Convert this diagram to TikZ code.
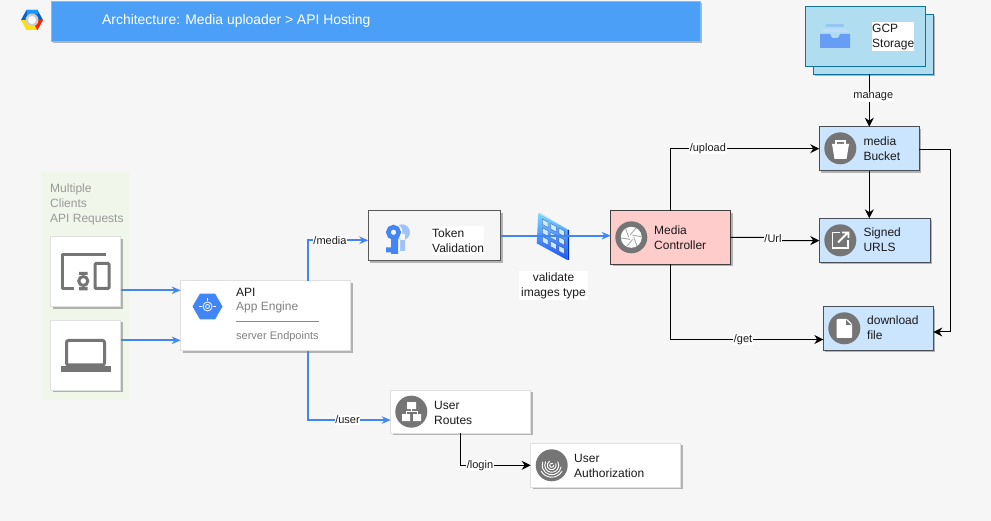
\documentclass[tikz,border=0pt]{standalone}
\usepackage{fontspec}
\setmainfont{Liberation Sans}
\usetikzlibrary{positioning,arrows.meta,shadows,shapes.geometric}
\definecolor{pagegray}{HTML}{F6F6F6}
\definecolor{titleblue}{HTML}{4C9FF6}
\definecolor{linkblue}{HTML}{4285F4}
\definecolor{icongray}{HTML}{757575}
\definecolor{boxline}{HTML}{4A4F55}
\definecolor{panelgreen}{HTML}{F1F6EA}
\definecolor{storagefill}{HTML}{B1DDF0}
\definecolor{storageline}{HTML}{10739E}
\definecolor{paleblue}{HTML}{CCE5FF}
\tikzset{
  box/.style={draw=#1, anchor=north west, inner sep=0pt, outer sep=0pt, line width=0.8pt,
    drop shadow={shadow xshift=2pt, shadow yshift=-2pt, fill=black, opacity=0.27}},
  txt/.style={anchor=west, align=left, inner sep=0pt, yshift=-1pt, font=\fontsize{12}{15}\selectfont, text=black!90},
  lbl/.style={fill=white, inner sep=0.6pt, font=\fontsize{11}{13}\selectfont, text=black!90},
  link/.style={-{Stealth[length=9pt,width=9pt]}, line width=1pt, black},
  bluelink/.style={-{Stealth[length=9pt,width=7.5pt]}, line width=2pt, linkblue},
  badge/.style={circle, fill=icongray, minimum size=32pt, inner sep=0pt}
}
\begin{document}
\begin{tikzpicture}[x=1pt, y=-1pt]
   % Page
   \fill[pagegray] (0,0) rectangle (991,521);
   \useasboundingbox (0,0) rectangle (991,521);

   % Title bar
   \node[box=titleblue!70!white, fill=titleblue, minimum width=649pt, minimum height=40pt] (title) at (51,1) {};
   \node[txt, text=white, font=\fontsize{13.9}{17}\selectfont] (titletxt) at (102,20) {Architecture: Media uploader > API Hosting};
   % Logo
   \fill[red!75!orange] (32,20) -- (43,20) -- (37.5,30) -- (31,30) -- cycle;
   \fill[yellow!85!orange] (32,20) -- (21,20) -- (26.5,30) -- (37,30) -- cycle;
   \fill[blue!50!cyan!80!black] (21,20) -- (26.5,10) -- (37.5,10) -- (43,20) -- cycle;
   \fill[blue!45!cyan!90!white] (26.5,10) -- (37.5,10) -- (38,14) -- (27,15) -- cycle;
   \fill[gray!40] (32,20) circle (6.5);
   \fill[white] (32,20) circle (4);

   % Clients panel
   \fill[panelgreen] (41,171) rectangle (130,400);
   \node[txt, text=black!40] (clients) at (50,203) {Multiple\\Clients\\API Requests};
   \node[box=black!12, fill=white, minimum width=70pt, minimum height=70pt] (device) at (50.7,236.7) {};
   \node[box=black!12, fill=white, minimum width=70pt, minimum height=70pt] (laptop) at (50.7,320) {};
   % Device icon
   \draw[icongray, line width=3pt, line join=round] (106,254.5) -- (62,254.5) -- (62,288.5) -- (74,288.5);
   \draw[icongray, line width=3pt, rounded corners=1pt] (95,263.5) rectangle (109,288.5);
   \draw[icongray, line width=3pt] (83.3,281) circle (4.5);
   \fill[icongray] (79,272) rectangle (87.5,275) (79,287) rectangle (87.5,290.5);
   % Laptop icon
   \draw[icongray, line width=3pt, rounded corners=2pt] (66.5,340.5) rectangle (104.5,365);
   \fill[icongray] (60.7,366.5) rectangle (110.7,372);

   % API
   \node[box=black!12, fill=white, minimum width=170pt, minimum height=70pt] (api) at (180.7,280.7) {};
   \node[regular polygon, regular polygon sides=6, fill=linkblue, minimum size=30pt, inner sep=0pt] (apiicon) at (207.5,306.5) {};
   \draw[white, line width=0.8pt] (207.5,306.5) circle (4.5) (207.5,306.5) circle (2);
   \draw[white, line width=1pt] (199,306.5) -- (202,306.5) (213,306.5) -- (216,306.5) (207.5,298) -- (207.5,301);
   \node[txt] (apitxt) at (236,291) {API};
   \node[txt, text=black!50] (apisub) at (236,306.5) {App Engine};
   \draw[black!45] (236,321.5) -- (319,321.5);
   \node[txt, text=black!50, font=\fontsize{11}{13}\selectfont] (apiend) at (236,336) {server Endpoints};

   % Token
   \node[box=black!65, fill=pagegray, minimum width=132.4pt, minimum height=50pt] (token) at (368.3,210.7) {};
   \fill[linkblue!50] (402,232.3) circle (8) (400,234) rectangle (405,251);
   \fill[pagegray] (393.5,232.3) circle (9) (390,238) rectangle (400,256);
   \draw[linkblue, line width=4.5pt] (393.5,232.3) circle (5.2);
   \fill[linkblue] (391,238) rectangle (398,254) (386,247.5) rectangle (392,252.5);
   \fill[white] (432,226) rectangle (484,255);
   \node[txt] (tokentxt) at (432,239.5) {Token\\Validation};

   % Image grid
   \fill[blue!70!cyan!70!black] (567.3,229.3) -- (569,230) -- (569,260) -- (567.3,260) -- cycle;
   \fill[cyan!25] (538.3,213.3) -- (540,212.5) -- (569,230) -- (567.3,230) -- cycle;
   \shade[top color=linkblue!55!cyan!60!white, bottom color=blue!75!cyan!90!white] (538.3,213.3) -- (567.3,229.3) -- (567.3,260) -- (536.7,243.3) -- cycle;
   \foreach \col in {0,1,2} \foreach \row in {0,1,2}
     \fill[cyan!22!white, draw=blue!45!black!70, line width=0.35pt] ({542.5+8.2*\col},{219+4.5*\col+8.8*\row}) -- ++(5.5,3) -- ++(0,5.5) -- ++(-5.5,-3) -- cycle;
   \coordinate (grid) at (552,235.7);
   \node[lbl, align=center, font=\fontsize{12}{14.5}\selectfont, minimum width=69pt, minimum height=29pt] (gridtxt) at (553.5,286) {validate\\images type};

   % Media controller
   \node[box=black!75, fill=red!20, minimum width=120pt, minimum height=53.6pt] (media) at (610.7,210.7) {};
   \node[badge] (mediaicon) at (631.3,237.3) {};
   \fill[white] (631.3,237.3) circle (10.5);
   \foreach \ang in {0,60,...,300}
     \draw[black!35, line width=0.9pt] (631.3,237.3) ++(\ang:2.5) -- ++(\ang+70:9);
   \node[txt] (mediatxt) at (654,237) {Media\\Controller};

   % GCP storage
   \node[box=storageline, fill=storagefill, minimum width=120pt, minimum height=60pt] (storageb) at (813.3,14.3) {};
   \node[draw=storageline, anchor=north west, inner sep=0pt, outer sep=0pt, line width=0.8pt, fill=storagefill, minimum width=120.4pt, minimum height=60pt] (storage) at (805.3,6.7) {};
   \fill[linkblue!25!storagefill] (826,24) rectangle (844,27);
   \fill[linkblue!30!white] (823,29) rectangle (847,32);
   \fill[linkblue!80!white] (820,34) -- (830,34) -- (832,38) -- (838,38) -- (840,34) -- (850,34) -- (850,48) -- (820,48) -- cycle;
   \fill[white] (872,22) rectangle (914,51);
   \node[txt] (storagetxt) at (872,36.5) {GCP\\Storage};

   % Bucket
   \node[box=boxline, fill=paleblue, minimum width=100pt, minimum height=44pt] (bucket) at (819.3,126.7) {};
   \node[badge] (bucketicon) at (840.3,148.3) {};
   \fill[white] (832,144) -- (849,144) -- (846.5,159) -- (834.5,159) -- cycle;
   \draw[white, line width=1.5pt] (836,145) -- (836,141) -- (845,141) -- (845,145);
   \node[txt] (buckettxt) at (863.3,147.5) {media\\Bucket};

   % Signed
   \node[box=boxline, fill=paleblue, minimum width=110.7pt, minimum height=44pt] (signed) at (819.3,218.3) {};
   \node[badge] (signedicon) at (840.3,240.3) {};
   \draw[white, line width=1.8pt] (840,232.5) -- (832.5,232.5) -- (832.5,248) -- (848,248) -- (848,240.5);
   \draw[white, line width=1.8pt] (838,242.5) -- (848,232.5) (842,232.5) -- (848.5,232.5) -- (848.5,238);
   \node[txt] (signedtxt) at (863.3,238.5) {Signed\\URLS};

   % Download
   \node[box=boxline, fill=paleblue, minimum width=110pt, minimum height=43.6pt] (download) at (823.3,306.7) {};
   \node[badge] (downloadicon) at (844.3,328.3) {};
   \fill[white, rounded corners=1pt] (836.5,319) -- (847,319) -- (852,324) -- (852,338) -- (836.5,338) -- cycle;
   \fill[icongray] (846,320) -- (846,325) -- (851,325) -- cycle;
   \node[txt] (downloadtxt) at (867,327) {download\\file};

   % User routes
   \node[box=black!12, fill=white, minimum width=140pt, minimum height=43.3pt] (routes) at (390.7,390) {};
   \node[badge] (routesicon) at (411.3,411.7) {};
   \fill[white] (407,402) rectangle (416,409) (402,414) rectangle (410,421) (413,414) rectangle (421,421);
   \draw[white, line width=1pt] (411.5,409) -- (411.5,411.5) (406,414) -- (406,411.5) -- (417,411.5) -- (417,414);
   \node[txt] (routestxt) at (434,411.5) {User\\Routes};

   % User authorization
   \node[box=black!12, fill=white, minimum width=150pt, minimum height=44pt] (auth) at (530.7,443.3) {};
   \node[badge] (authicon) at (551.7,465.3) {};
   \foreach \rad/\from/\to in {2/0/300, 4.5/-20/240, 7/-30/210, 9.5/10/200, 12/30/150}
     \draw[white, line width=0.9pt, line cap=round] (551.7,465.3) ++(\from:\rad) arc (\from:\to:\rad);
   \node[txt] (authtxt) at (574,464.5) {User\\Authorization};

   % Blue links
   \draw[bluelink] ([yshift=-18.6pt]device.east) -- ([yshift=25.4pt]api.west);
   \draw[bluelink] ([yshift=14.7pt]laptop.east) -- ([yshift=-24.6pt]api.west);
   \draw[bluelink] ([xshift=42pt]api.north) |- ([yshift=-4.6pt]token.west) node[pos=0.684, lbl] {/media};
   \draw[bluelink] ([xshift=42pt]api.south) |- ([yshift=-8.4pt]routes.west) node[pos=0.74, lbl] {/user};
   \draw[linkblue, line width=2pt] (token.east) -- (grid);
   \draw[bluelink] (grid) -- (grid -| media.west);

   % Black links
   \draw[link] (media.north) |- (bucket.west) node[pos=0.625, lbl] {/upload};
   \draw[link] (media.east) -- ++(38,0) -- ++(0,3) -- ([yshift=-0.3pt]signed.west);
   \node[lbl] (urltxt) at (773,238.5) {/Url};
   \draw[link] (media.south) |- ([yshift=-11pt]download.west) node[pos=0.737, lbl] {/get};
   \draw[link] (storageb.south -| bucket.north) -- (bucket.north) node[pos=0.43, lbl, xshift=4pt] (managetxt) {manage};
   \draw[link] (bucket.south) -- (bucket.south |- signed.north);
   \draw[link] ([yshift=-1.3pt]bucket.east) -- ++(31,0) |- ([yshift=-3.5pt]download.east);
   \draw[link] (routes.south) |- (auth.west) node[pos=0.638, lbl] {/login};
\end{tikzpicture}
\end{document}
